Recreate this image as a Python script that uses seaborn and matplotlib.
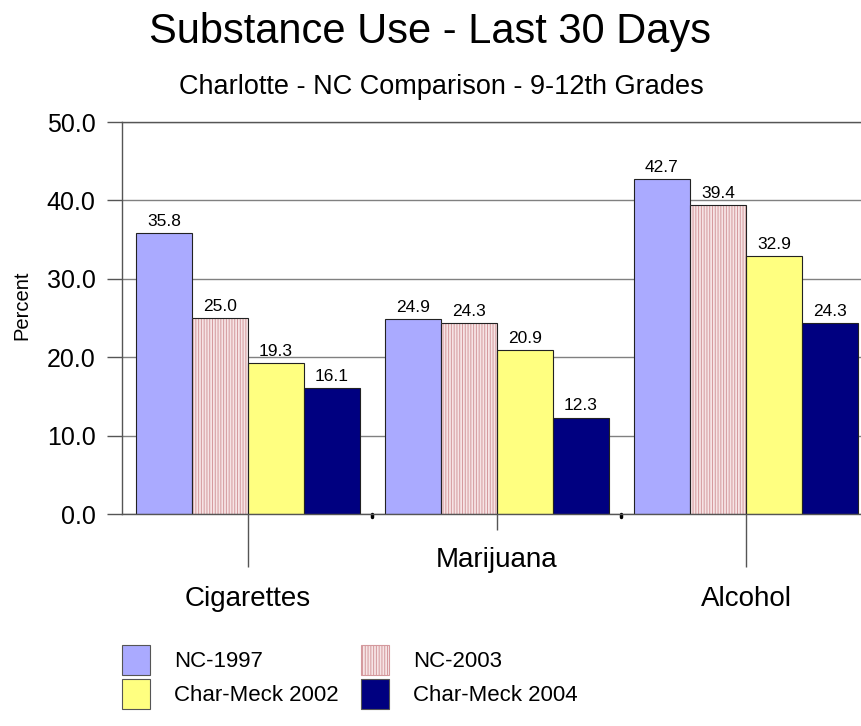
import matplotlib
matplotlib.use("Agg")
import matplotlib.pyplot as plt
from matplotlib.patches import Patch, Rectangle
import matplotlib.transforms as mtransforms
import seaborn as sns
import pandas as pd

# ---- data ----
substances = ["Cigarettes", "Marijuana", "Alcohol"]
groups = ["NC-1997", "NC-2003", "Char-Meck 2002", "Char-Meck 2004"]
nc_1997 = [35.8, 24.9, 42.7]
nc_2003 = [25.0, 24.3, 39.4]
cm_2002 = [19.3, 20.9, 32.9]
cm_2004 = [16.1, 12.3, 24.3]
y_ticks = [0, 10, 20, 30, 40, 50]

series = [nc_1997, nc_2003, cm_2002, cm_2004]
df = pd.DataFrame(
    [(s, g, v) for g, vals in zip(groups, series) for s, v in zip(substances, vals)],
    columns=["Substance", "Group", "Percent"],
)

colors = ["#aaaaff", "#f6e4e5", "#ffff80", "#000080"]
stripe = "#d4999d"

sns.set_theme(style="white")
plt.rcParams["font.family"] = ["Liberation Sans", "DejaVu Sans"]
plt.rcParams["hatch.linewidth"] = 0.7
for key in ["text.color", "axes.labelcolor", "xtick.labelcolor", "ytick.labelcolor"]:
    plt.rcParams[key] = "black"

fig = plt.figure(figsize=(8.62, 7.26), dpi=100)
ax = fig.add_axes([122 / 862, 1 - 514 / 726, 749 / 862, 392 / 726])

sns.barplot(
    data=df, x="Substance", y="Percent", hue="Group", order=substances,
    hue_order=groups, palette=colors, width=0.9, saturation=1,
    edgecolor="#222222", linewidth=0.8, legend=False, ax=ax,
)

# vertical pink stripes on the NC-2003 bars, with a dark outline on top
for p in ax.containers[1]:
    p.set_hatch("||||||")
    p.set_edgecolor(stripe)
    p.set_linewidth(0)
    ax.add_patch(Rectangle(p.get_xy(), p.get_width(), p.get_height(),
                           fill=False, edgecolor="#222222", linewidth=0.8,
                           zorder=p.get_zorder() + 0.1))

for c in ax.containers:
    ax.bar_label(c, fmt="%.1f", padding=3, fontsize=12.5, color="black")

# axes styling
ax.set_xlim(-0.506, 2.502)
ax.set_ylim(0, 50)
ax.set_yticks(y_ticks)
ax.set_yticklabels([f"{v:.1f}" for v in y_ticks], fontsize=18)
ax.yaxis.grid(True, color="#808080", linewidth=1.0)
ax.set_axisbelow(True)
ax.tick_params(axis="y", direction="out", length=11, width=1, color="#555555",
               pad=8, left=True)
for side in ["left", "bottom", "top"]:
    ax.spines[side].set_color("#555555")
    ax.spines[side].set_linewidth(1.0)
ax.spines["right"].set_visible(False)
ax.set_xlabel("")
ax.set_ylabel("")

# staggered category labels with leader ticks
ax.set_xticks([0, 2])
ax.set_xticklabels([substances[0], substances[2]], fontsize=20)
ax.set_xticks([1], minor=True)
ax.set_xticklabels([substances[1]], minor=True, fontsize=20)
ax.tick_params(axis="x", which="major", bottom=True, direction="out",
               length=38, width=1, color="#555555", pad=14)
ax.tick_params(axis="x", which="minor", bottom=True, direction="out",
               length=11.5, width=1, color="#555555", pad=12)

# small separators between categories
trans = mtransforms.blended_transform_factory(ax.transData, ax.transAxes)
for xb in [0.5, 1.5]:
    ax.plot([xb, xb], [0, -0.008], color="black", linewidth=2.5,
            transform=trans, clip_on=False)

# titles and y label
fig.text(430 / 862, 1 - 32 / 726, "Substance Use - Last 30 Days",
         fontsize=30, ha="center", va="center")
fig.text(441 / 862, 1 - 87 / 726, "Charlotte - NC Comparison - 9-12th Grades",
         fontsize=19.5, ha="center", va="center")
fig.text(22 / 862, 1 - 305 / 726, "Percent", fontsize=14.5, rotation=90,
         ha="center", va="center")

# legend below the chart, filled row by row
handles = [
    Patch(facecolor=colors[0], edgecolor="#555555", linewidth=0.8),
    Patch(facecolor=colors[1], edgecolor=stripe, hatch="||||||", linewidth=0.8),
    Patch(facecolor=colors[2], edgecolor="#555555", linewidth=0.8),
    Patch(facecolor=colors[3], edgecolor="#555555", linewidth=0.8),
]
order = [0, 2, 1, 3]
fig.legend(
    [handles[i] for i in order], [groups[i] for i in order],
    ncol=2, loc="upper left",
    bbox_to_anchor=(122 / 862, 1 - 645 / 726), frameon=False,
    fontsize=16, handlelength=1.26, handleheight=1.7, handletextpad=1.08,
    columnspacing=1.0, labelspacing=0.18, borderpad=0, borderaxespad=0,
)

fig.savefig("out.png", dpi=100)
